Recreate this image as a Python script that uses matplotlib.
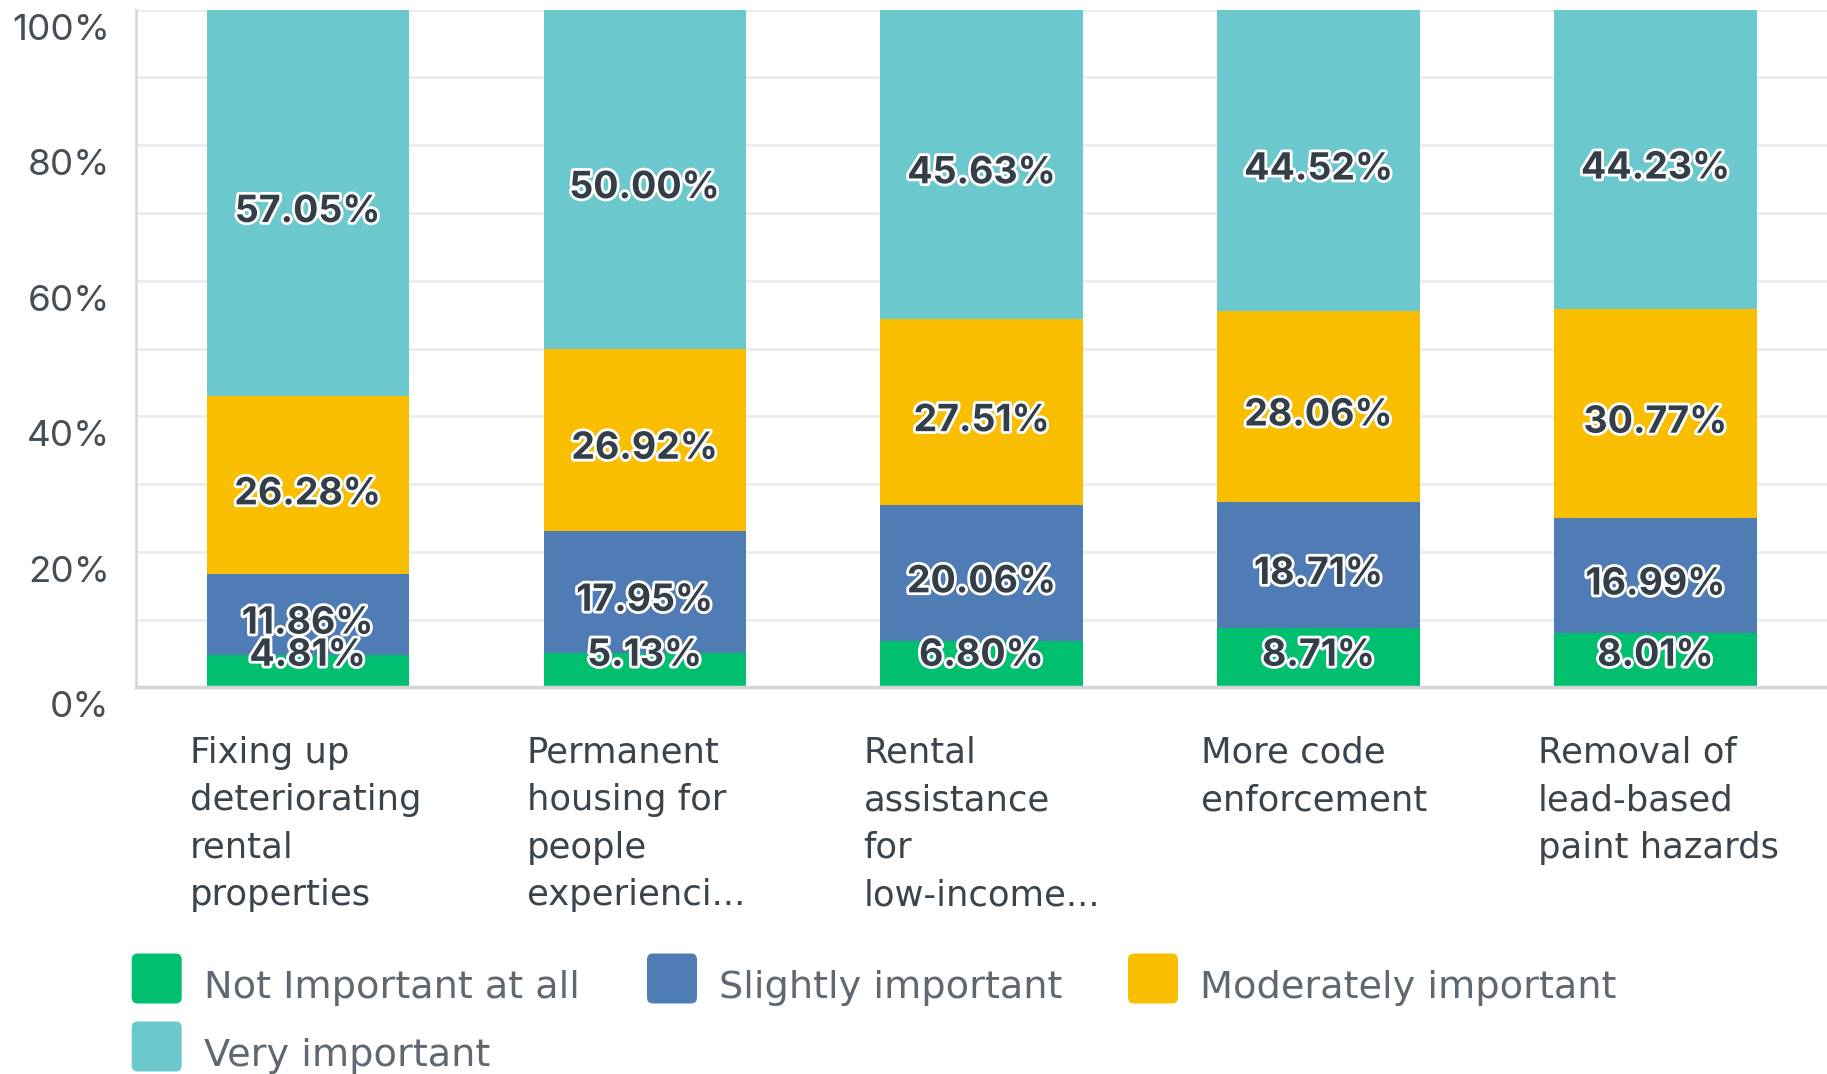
import numpy as np
import matplotlib
matplotlib.use("Agg")
import matplotlib.pyplot as plt
import matplotlib.patheffects as pe
from matplotlib.patches import FancyBboxPatch
from matplotlib.transforms import ScaledTranslation

# datos
categorias = [
    "Fixing up\ndeteriorating\nrental\nproperties",
    "Permanent\nhousing for\npeople\nexperienci...",
    "Rental\nassistance\nfor\nlow-income...",
    "More code\nenforcement",
    "Removal of\nlead-based\npaint hazards",
]
series = ["Not Important at all", "Slightly important", "Moderately important", "Very important"]
not_important = [4.81, 5.13, 6.80, 8.71, 8.01]
slightly = [11.86, 17.95, 20.06, 18.71, 16.99]
moderately = [26.28, 26.92, 27.51, 28.06, 30.77]
very = [57.05, 50.00, 45.63, 44.52, 44.23]
colores = ["#00bf6f", "#507cb6", "#f9be00", "#6bc8cd"]
ticks_y = [0, 20, 40, 60, 80, 100]

valores = [not_important, slightly, moderately, very]

fig = plt.figure(figsize=(18.27, 10.74), dpi=100)
ax = fig.add_axes([0.0745, 0.36, 0.9255, 0.631])

x = np.arange(len(categorias))
base = np.zeros(len(categorias))
contorno = [pe.withStroke(linewidth=4, foreground="white")]

for nombre, vals, col in zip(series, valores, colores):
    vals = np.array(vals)
    ax.bar(x, vals, 0.6, bottom=base, color=col, label=nombre, zorder=2)
    for xi, b, v in zip(x, base, vals):
        yc = max(b + v / 2, 6.0)
        ax.annotate(f"{v:.2f}%", xy=(xi, yc), xytext=(0, -6.5), textcoords="offset points",
                    ha="center", va="center", fontsize=27, family="Inter",
                    fontweight="bold", color="#333e48", path_effects=contorno, zorder=3)
    base = base + vals

ax.set_xlim(-0.509, 4.509)
ax.set_ylim(0, 100)
ax.set_xticks([])
ax.set_yticks(ticks_y)
ax.set_yticklabels([f"{t}%" for t in ticks_y], family="Inter", fontsize=26.5, color="#454e56")
ax.set_yticks(np.arange(10, 100, 20), minor=True)
ax.tick_params(axis="y", which="both", length=0, pad=19)
ax.grid(axis="y", which="both", color="#ececec", linewidth=2)
ax.set_axisbelow(True)

# etiquetas del eje y un poco por debajo de la linea
offset = ScaledTranslation(0, -0.17, fig.dpi_scale_trans)
for t in ax.yaxis.get_major_ticks():
    t.label1.set_transform(t.label1.get_transform() + offset)

for s in ["top", "right"]:
    ax.spines[s].set_visible(False)
ax.spines["left"].set_color("#d6d6d6")
ax.spines["left"].set_linewidth(1.8)
ax.spines["bottom"].set_color("#d4d4d4")
ax.spines["bottom"].set_linewidth(2.5)

# nombres de categorias debajo de cada barra
for xi, cat in zip(x, categorias):
    ax.annotate(cat, xy=(xi - 0.35, 0), xycoords=("data", "axes fraction"),
                xytext=(0, -35), textcoords="offset points", ha="left", va="top",
                fontsize=25.5, family="DejaVu Sans", color="#3a444c", linespacing=1.5)

# leyenda manual
cols_x = [1.317, 6.47, 11.28]
filas_y = [0.955, 0.275]
for i, (nombre, col) in enumerate(zip(series, colores)):
    cx = cols_x[i % 3]
    cy = filas_y[i // 3]
    caja = FancyBboxPatch((cx, cy - 0.25), 0.5, 0.5,
                          boxstyle="round,pad=0,rounding_size=0.06",
                          transform=fig.dpi_scale_trans, facecolor=col, edgecolor="none")
    fig.patches.append(caja)
    fig.text(cx + 0.72, cy - 0.2, nombre, transform=fig.dpi_scale_trans, ha="left",
             va="baseline", fontsize=27.5, family="DejaVu Sans", color="#5f6870")

fig.savefig("out.png", dpi=100)
